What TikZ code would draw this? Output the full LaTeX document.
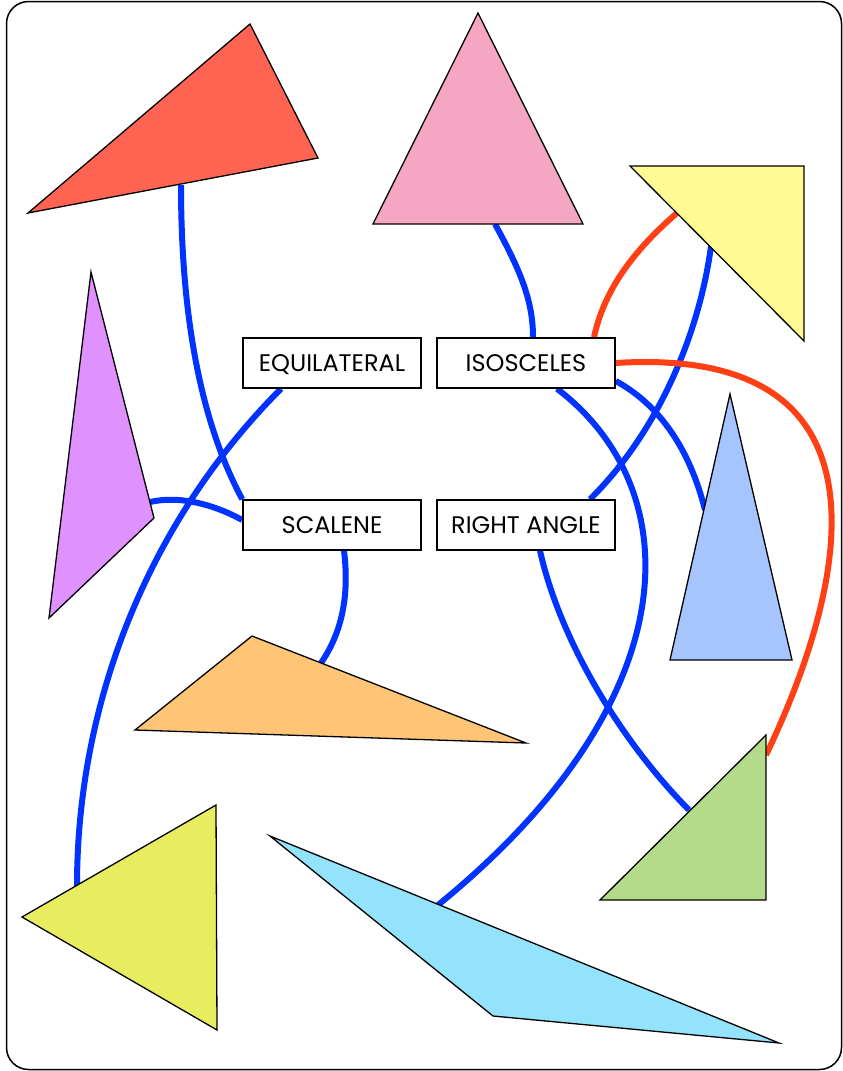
\documentclass[tikz,border=0pt]{standalone}
\usepackage{fontspec}
\setmainfont{Poppins}
\usetikzlibrary{backgrounds}
\definecolor{linkblue}{HTML}{0033FF}
\definecolor{linkred}{HTML}{FF4015}
\definecolor{triRed}{HTML}{FF6352}
\definecolor{triPink}{HTML}{F4A6C2}
\definecolor{triYellow}{HTML}{FFFA94}
\definecolor{triPurple}{HTML}{DF91FD}
\definecolor{triSky}{HTML}{A6C5FE}
\definecolor{triOrange}{HTML}{FEC576}
\definecolor{triGreen}{HTML}{B3DB8A}
\definecolor{triLime}{HTML}{E8EC5F}
\definecolor{triCyan}{HTML}{94E3FC}
\begin{document}
\begin{tikzpicture}[
			x=1pt, y=-1pt,
			kind/.style={draw, fill=white, line width=1.5pt, minimum width=178pt, minimum height=50pt,
				inner sep=0pt, text height=17pt, text depth=0pt, font=\fontsize{24}{28}\selectfont},
			tri/.style={draw, line width=1.3pt, line join=miter},
			blueline/.style={draw=linkblue, line width=6pt},
			redline/.style={draw=linkred, line width=6pt}
		]
		\useasboundingbox (0,0) rectangle (843,1071);

		\node[kind] (equi) at (332,363) {EQUILATERAL};
		\node[kind] (isos) at (526,363) {ISOSCELES};
		\node[kind] (scal) at (332,525) {SCALENE};
		\node[kind] (right) at (526,525) {RIGHT ANGLE};

		\coordinate (redtip) at (181,185);
		\coordinate (pinktip) at (495,224);
		\coordinate (limetip) at (77,886);
		\coordinate (purpletip) at (150,502);
		\coordinate (orangetip) at (321,663);
		\coordinate (cyantip) at (438,905);
		\coordinate (skytip) at (705,510);
		\coordinate (yellowtip) at (711,246);
		\coordinate (yellowtop) at (677,213);
		\coordinate (greentip) at (689,810);
		\coordinate (greenside) at (766,755);

		\filldraw[tri, fill=triRed] (28,213) -- (250,24) -- (318,158) -- cycle;
		\filldraw[tri, fill=triPink] (373,224) -- (478,13) -- (583,224) -- cycle;
		\filldraw[tri, fill=triYellow] (630,166) -- (804,166) -- (804,341) -- cycle;
		\filldraw[tri, fill=triPurple] (91,272) -- (154,518) -- (49,618) -- cycle;
		\filldraw[tri, fill=triSky] (730,394) -- (792,660) -- (670,660) -- cycle;
		\filldraw[tri, fill=triOrange] (252,636) -- (526,743) -- (135,730) -- cycle;
		\filldraw[tri, fill=triGreen] (766,735) -- (766,900) -- (600,900) -- cycle;
		\filldraw[tri, fill=triLime] (216,805) -- (217,1030) -- (22,917) -- cycle;
		\filldraw[tri, fill=triCyan] (270,836) -- (779,1043) -- (493,1016) -- cycle;

		\begin{scope}[on background layer]
			\draw[line width=1.5pt, rounded corners=22pt] (6.5,1.5) rectangle (841.5,1069.5);
			\path[blueline] (redtip) .. controls (181,330) and (205,430) .. (scal.north west);
			\path[blueline] (pinktip) .. controls (520,270) and (533,300) .. ([xshift=7pt]isos.north);
			\path[blueline] ([xshift=-51pt]equi.south) .. controls (150,520) and (77,700) .. (limetip);
			\path[blueline] (purpletip) .. controls (180,495) and (215,505) .. ([yshift=5pt]scal.west);
			\path[blueline] ([xshift=12pt]scal.south) .. controls (350,600) and (340,635) .. (orangetip);
			\path[blueline] ([xshift=31pt]isos.south) .. controls (690,490) and (690,700) .. (cyantip);
			\path[blueline] ([yshift=-18pt]isos.east) .. controls (660,405) and (690,450) .. (skytip);
			\path[blueline] ([xshift=64pt]right.north) .. controls (660,430) and (700,330) .. (yellowtip);
			\path[blueline] ([xshift=14pt]right.south) .. controls (560,640) and (620,740) .. (greentip);
			\path[redline] ([xshift=68pt]isos.north) .. controls (605,285) and (640,245) .. (yellowtop);
			\path[redline] (isos.east) .. controls (900,345) and (850,580) .. (greenside);
		\end{scope}
	\end{tikzpicture}
\end{document}
